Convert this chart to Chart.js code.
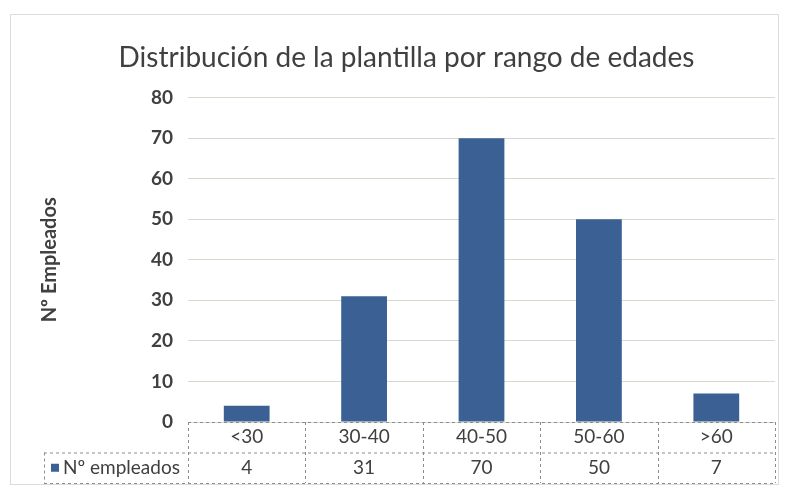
<!DOCTYPE html>
<html>
<head>
<meta charset="utf-8">
<script src="https://cdn.jsdelivr.net/npm/chart.js@4"></script>
<style>
  html, body { margin: 0; padding: 0; background: #ffffff; }
  #wrap { width: 785px; height: 488px; }
</style>
</head>
<body>
<div id="wrap"><canvas id="myChart" width="785" height="488"></canvas></div>
<script>
// age ranges and number of employees
const categories = ['<30', '30-40', '40-50', '50-60', '>60'];
const empleados = [4, 31, 70, 50, 7];
const y_ticks = [0, 10, 20, 30, 40, 50, 60, 70, 80];

const FONT = "Lato, 'Open Sans', sans-serif";
const TEXT = '#404040';
const BAR = '#3b6194';

// draws the data table under the plot and the outer frame
const tablePlugin = {
    id: 'dataTable',
    afterDraw(chart) {
        const ctx = chart.ctx;
        const x = chart.scales.x;
        const area = chart.chartArea;
        const rowH = 30.5;
        const top = area.bottom;
        const mid = top + rowH;
        const bottom = mid + rowH;
        const leftLegend = 44;
        ctx.save();
        // outer frame of the chart
        ctx.strokeStyle = '#dcdcdc';
        ctx.lineWidth = 1;
        ctx.strokeRect(10.5, 14.5, 768, 470);
        // dashed table lines
        ctx.strokeStyle = '#8c8c8c';
        ctx.setLineDash([3, 3]);
        ctx.beginPath();
        ctx.moveTo(area.left, top + 0.5);
        ctx.lineTo(area.right, top + 0.5);
        ctx.moveTo(leftLegend, mid + 0.5);
        ctx.lineTo(area.right, mid + 0.5);
        ctx.moveTo(leftLegend, bottom + 0.5);
        ctx.lineTo(area.right, bottom + 0.5);
        ctx.moveTo(leftLegend + 0.5, mid);
        ctx.lineTo(leftLegend + 0.5, bottom);
        // vertical separators on category boundaries
        for (let i = 0; i <= categories.length; i++) {
            const px = Math.round(x.getPixelForValue(i - 0.5)) + 0.5;
            ctx.moveTo(px, top);
            ctx.lineTo(px, bottom);
        }
        ctx.stroke();
        ctx.setLineDash([]);
        // category labels and values
        ctx.fillStyle = TEXT;
        ctx.font = '19px ' + FONT;
        ctx.textAlign = 'center';
        ctx.textBaseline = 'middle';
        categories.forEach(function(cat, i) {
            const px = x.getPixelForValue(i);
            ctx.fillText(cat, px, top + rowH / 2);
            ctx.fillText(String(empleados[i]), px, mid + rowH / 2);
        });
        // legend key and series name
        ctx.fillStyle = BAR;
        ctx.fillRect(leftLegend + 7, mid + rowH / 2 - 4, 8, 8);
        ctx.fillStyle = TEXT;
        ctx.textAlign = 'left';
        ctx.fillText('Nº empleados', leftLegend + 19, mid + rowH / 2);
        ctx.restore();
    }
};

const dataset = {
    labels: categories,
    datasets: [{
        label: 'Nº empleados',
        data: empleados,
        backgroundColor: BAR,
        borderWidth: 0,
        categoryPercentage: 1,
        barPercentage: 0.39
    }]
};

const config = {
    type: 'bar',
    data: dataset,
    plugins: [tablePlugin],
    options: {
        responsive: false,
        animation: false,
        layout: {
            padding: { left: 38, right: 10, top: 0, bottom: 66 }
        },
        plugins: {
            legend: { display: false },
            tooltip: { enabled: false },
            title: {
                display: true,
                text: 'Distribución de la plantilla por rango de edades',
                color: TEXT,
                font: { family: FONT, size: 28, weight: 'normal' },
                padding: { top: 41, bottom: 23 }
            }
        },
        scales: {
            x: {
                display: false
            },
            y: {
                min: 0,
                max: 80,
                afterBuildTicks: function(scale) {
                    scale.ticks = y_ticks.map(function(v) { return { value: v }; });
                },
                afterFit: function(scale) {
                    scale.width = 150;
                },
                border: { display: false },
                grid: {
                    color: '#d3dccd',
                    drawTicks: false
                },
                ticks: {
                    color: TEXT,
                    padding: 15,
                    font: { family: FONT, size: 19, weight: 'bold' }
                },
                title: {
                    display: true,
                    text: 'Nº Empleados',
                    color: TEXT,
                    font: { family: FONT, size: 20, weight: 'bold' },
                    padding: { top: 0, bottom: 0 }
                }
            }
        }
    }
};

const myChart = new Chart(document.getElementById('myChart'), config);
</script>
</body>
</html>
